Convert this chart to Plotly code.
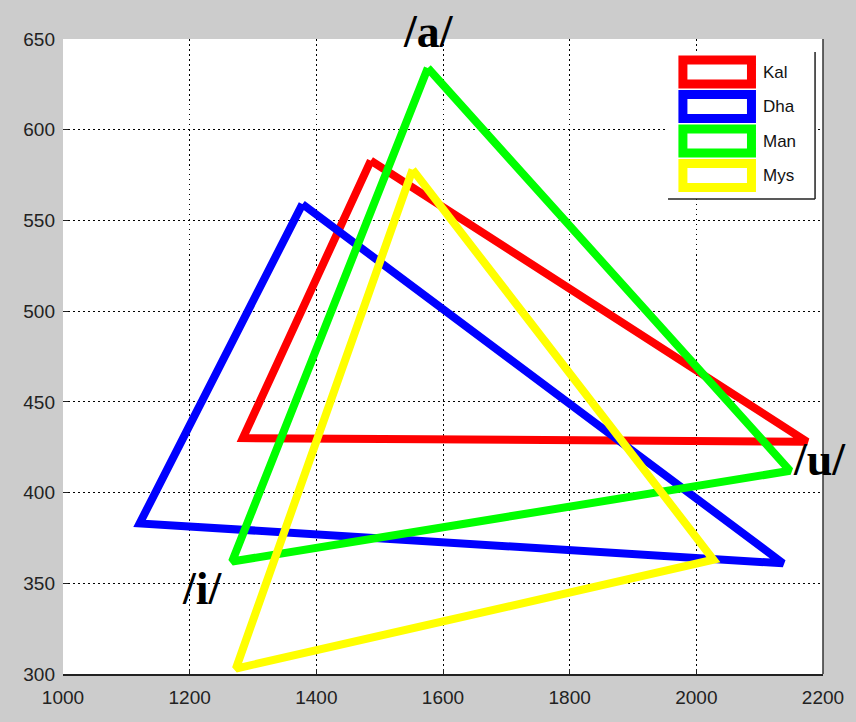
import plotly.graph_objects as go

# vowel order: /a/, /i/, /u/
vowels = ["/a/", "/i/", "/u/"]
series_names = ["Kal", "Dha", "Man", "Mys"]
kal_x = [1486, 1284, 2175]
kal_y = [583, 430, 428]
dha_x = [1378, 1121, 2137]
dha_y = [559, 383, 361]
man_x = [1576, 1267, 2148]
man_y = [634, 362, 412]
mys_x = [1552, 1273, 2027]
mys_y = [578, 303, 363]
colors = ["#ff0000", "#0000ff", "#00ff00", "#ffff00"]

x_ticks = [1000, 1200, 1400, 1600, 1800, 2000, 2200]
y_ticks = [300, 350, 400, 450, 500, 550, 600, 650]

# label positions for vowel annotations (data units)
label_x = [1577, 1221, 2195]
label_y = [654, 347, 418]

W, H = 856, 722
L, R, T, B = 63, 828, 39, 674


def px(xp):
    return (xp - L) / (R - L)


def py(yp):
    return (B - yp) / (B - T)


fig = go.Figure()
for name, xs, ys, c in zip(series_names, [kal_x, dha_x, man_x, mys_x],
                           [kal_y, dha_y, man_y, mys_y], colors):
    fig.add_trace(go.Scatter(
        x=xs + xs[:1], y=ys + ys[:1], mode="lines", name=name,
        line=dict(color=c, width=8), showlegend=False, hoverinfo="x+y+name"))

shapes = []
annotations = []
# manual legend box
shapes.append(dict(type="rect", xref="paper", yref="paper",
                   x0=px(672), x1=px(820), y0=py(199), y1=py(52),
                   fillcolor="white", line=dict(width=0), layer="above"))
shapes.append(dict(type="line", xref="paper", yref="paper",
                   x0=px(820), x1=px(820), y0=py(199), y1=py(52),
                   line=dict(color="#222", width=1.5), layer="above"))
shapes.append(dict(type="line", xref="paper", yref="paper",
                   x0=px(672), x1=px(820), y0=py(199), y1=py(199),
                   line=dict(color="#222", width=1.5), layer="above"))
for i, (name, c) in enumerate(zip(series_names, colors)):
    top = 60 + i * 34.5
    shapes.append(dict(type="rect", xref="paper", yref="paper",
                       x0=px(687), x1=px(756), y0=py(top + 24), y1=py(top),
                       fillcolor="white", line=dict(color=c, width=9), layer="above"))
    annotations.append(dict(xref="paper", yref="paper", x=px(766), y=py(top + 12),
                            text=name, showarrow=False, xanchor="left", yanchor="middle",
                            font=dict(family="Liberation Sans", size=17, color="#111")))

y0, y1 = 300, 650
for v, lx, ly in zip(vowels, label_x, label_y):
    annotations.append(dict(x=lx, y=(ly - y0) / (y1 - y0), xref="x", yref="paper",
                            text="<b>" + v + "</b>",
                            showarrow=False, xanchor="center", yanchor="middle",
                            font=dict(family="Liberation Serif", size=46, color="black")))

axis_common = dict(
    showgrid=True, gridcolor="black", griddash="1.5px,3.5px", gridwidth=1,
    zeroline=False, ticks="inside", ticklen=5, tickcolor="#222",
    tickfont=dict(family="Liberation Sans", size=19, color="#222"),
)

fig.update_layout(
    width=W, height=H,
    margin=dict(l=L, r=W - R, t=T, b=H - B, pad=0),
    paper_bgcolor="#cccccc", plot_bgcolor="white",
    xaxis=dict(range=[1000, 2200], tickvals=x_ticks, showline=True,
               linecolor="#222", linewidth=2, mirror=False,
               ticklabelstandoff=5, **axis_common),
    yaxis=dict(range=[y0, y1], tickvals=y_ticks, showline=False,
               ticklabelstandoff=7, **axis_common),
    shapes=shapes, annotations=annotations,
)
# right edge line of the box
fig.add_shape(type="line", xref="paper", yref="paper", x0=1, x1=1, y0=0, y1=1,
              line=dict(color="#333", width=1.5), layer="above")

fig.write_html("out.html", config={"displayModeBar": False},
               post_script="document.body.style.margin='0px';document.body.style.background='#cccccc';")
